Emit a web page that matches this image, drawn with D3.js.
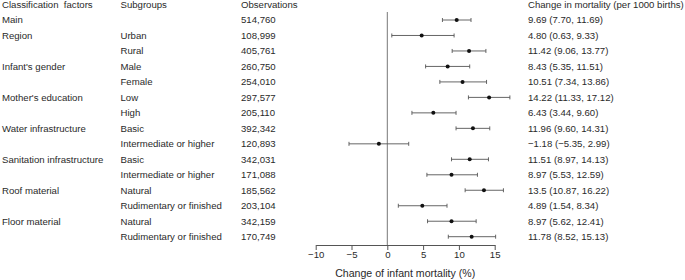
<!DOCTYPE html>
<html lang="en">
<head>
<meta charset="UTF-8">
<title>Forest plot</title>
<style>
  body { margin: 0; background: #fff; }
  text { font-family: "Liberation Sans", Arial, sans-serif; font-size: 9.6px; fill: #2a2a2a; }
</style>
</head>
<body>
<svg width="685" height="280" id="svg"></svg>
<script src="https://d3js.org/d3.v7.min.js"></script>
<script>
    const factors = ["Main", "Region", "", "Infant's gender", "", "Mother's education", "", "Water infrastructure", "",
        "Sanitation infrastructure", "", "Roof material", "", "Floor material", ""]
    const subgroups = ["", "Urban", "Rural", "Male", "Female", "Low", "High", "Basic", "Intermediate or higher",
        "Basic", "Intermediate or higher", "Natural", "Rudimentary or finished", "Natural", "Rudimentary or finished"]
    const observations = ["514,760", "108,999", "405,761", "260,750", "254,010", "297,577", "205,110", "392,342",
        "120,893", "342,031", "171,088", "185,562", "203,104", "342,159", "170,749"]
    const estimate = [9.69, 4.80, 11.42, 8.43, 10.51, 14.22, 6.43, 11.96, -1.18, 11.51, 8.97, 13.5, 4.89, 8.97, 11.78]
    const lower = [7.70, 0.63, 9.06, 5.35, 7.34, 11.33, 3.44, 9.60, -5.35, 8.97, 5.53, 10.87, 1.54, 5.62, 8.52]
    const upper = [11.69, 9.33, 13.77, 11.51, 13.86, 17.12, 9.60, 14.31, 2.99, 14.13, 12.59, 16.22, 8.34, 12.41, 15.13]
    const effectLabels = ["9.69 (7.70, 11.69)", "4.80 (0.63, 9.33)", "11.42 (9.06, 13.77)", "8.43 (5.35, 11.51)",
        "10.51 (7.34, 13.86)", "14.22 (11.33, 17.12)", "6.43 (3.44, 9.60)", "11.96 (9.60, 14.31)",
        "\u22121.18 (\u22125.35, 2.99)", "11.51 (8.97, 14.13)", "8.97 (5.53, 12.59)", "13.5 (10.87, 16.22)",
        "4.89 (1.54, 8.34)", "8.97 (5.62, 12.41)", "11.78 (8.52, 15.13)"]
    const xTicks = [-10, -5, 0, 5, 10, 15]

    const svg = d3.select("svg#svg")
    const rows = d3.range(estimate.length)
    const yScale = d3.scalePoint().domain(rows).range([20, 236.7])
    const xScale = d3.scaleLinear().domain([-10, 15]).range([315.7, 494.7])
    const axisY = 245
    const headerY = 5

    // header
    const header = [
        { x: 2, t: "Classification\u00a0\u00a0factors" },
        { x: 120.5, t: "Subgroups" },
        { x: 241, t: "Observations" },
        { x: 528, t: "Change in mortality (per 1000 births)" }
    ]
    svg.selectAll("text.head").data(header).enter().append("text")
        .attr("class", "head")
        .attr("x", d => d.x).attr("y", headerY).attr("dy", "0.35em")
        .text(d => d.t)

    // text columns
    const cols = [
        { x: 2, vals: factors },
        { x: 120.5, vals: subgroups },
        { x: 241, vals: observations },
        { x: 528, vals: effectLabels }
    ]
    cols.forEach(c => {
        svg.append("g").selectAll("text").data(rows).enter().append("text")
            .attr("x", c.x).attr("y", i => yScale(i)).attr("dy", "0.35em")
            .text(i => c.vals[i])
    })

    // zero line
    svg.append("line")
        .attr("x1", xScale(0)).attr("x2", xScale(0))
        .attr("y1", 12).attr("y2", axisY)
        .attr("stroke", "#777").attr("stroke-width", 1)

    // error bars
    const bars = svg.append("g").attr("stroke", "#555").attr("stroke-width", 0.9)
    rows.forEach(i => {
        const y = yScale(i)
        bars.append("line").attr("x1", xScale(lower[i])).attr("x2", xScale(upper[i])).attr("y1", y).attr("y2", y)
        bars.append("line").attr("x1", xScale(lower[i])).attr("x2", xScale(lower[i])).attr("y1", y - 2).attr("y2", y + 2)
        bars.append("line").attr("x1", xScale(upper[i])).attr("x2", xScale(upper[i])).attr("y1", y - 2).attr("y2", y + 2)
    })
    svg.append("g").selectAll("circle").data(rows).enter().append("circle")
        .attr("cx", i => xScale(estimate[i])).attr("cy", i => yScale(i))
        .attr("r", 2).attr("fill", "#111")

    // x axis
    const xAxis = d3.axisBottom(xScale).tickValues(xTicks).tickSize(5).tickSizeOuter(0)
        .tickFormat(d => d < 0 ? "\u2212" + Math.abs(d) : d)
    const gx = svg.append("g").attr("transform", `translate(0,${axisY})`).call(xAxis)
    gx.select(".domain").attr("stroke", "#555")
    gx.selectAll(".tick line").attr("stroke", "#555")
    gx.selectAll(".tick text").attr("fill", "#2a2a2a").attr("font-size", null).attr("font-family", null).attr("dy", "0.5em")
    gx.attr("font-size", null).attr("font-family", null)

    svg.append("text")
        .attr("x", xScale(2.5)).attr("y", 273).attr("dy", "0.35em")
        .attr("text-anchor", "middle")
        .style("font-size", "10.6px")
        .text("Change of infant mortality (%)")
</script>
</body>
</html>
